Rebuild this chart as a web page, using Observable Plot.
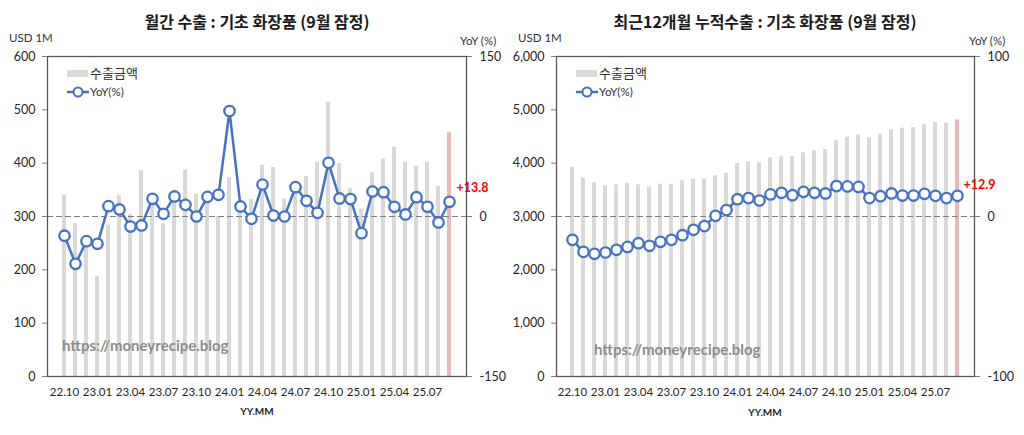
<!DOCTYPE html>
<html><head><meta charset="utf-8">
<script src="https://cdn.jsdelivr.net/npm/d3@7"></script>
<script src="https://cdn.jsdelivr.net/npm/@observablehq/plot@0.6"></script>
<style>
body{margin:0;background:#fff;font-family:Lato,"Noto Sans CJK KR",sans-serif;}
#wrap{position:relative;width:1024px;height:435px;overflow:hidden;background:#fff;}
.panel{position:absolute;top:0;width:512px;height:435px;}
.ov{position:absolute;white-space:nowrap;line-height:1;}
.title{font-weight:bold;font-size:16px;color:#1a1a1a;transform:translateX(-50%);font-family:"Noto Sans CJK KR",sans-serif;}
.unit{font-size:11.5px;color:#333;}
.xl{font-size:10px;font-weight:bold;color:#262626;transform:translateX(-50%);}
.wm{font-size:15px;font-weight:bold;color:#8c8c8c;}
.lg1{font-size:13px;color:#333;font-family:"Noto Sans CJK KR",sans-serif;}
.lg2{font-size:11.5px;color:#333;}
</style>
</head><body>
<div id="wrap">
  <div class="panel" id="p1" style="left:0"></div>
  <div class="panel" id="p2" style="left:512px"></div>
</div>
<script>
// ---- data ----
const months = ["22.10","22.11","22.12","23.01","23.02","23.03","23.04","23.05","23.06","23.07","23.08","23.09",
  "23.10","23.11","23.12","24.01","24.02","24.03","24.04","24.05","24.06","24.07","24.08","24.09",
  "24.10","24.11","24.12","25.01","25.02","25.03","25.04","25.05","25.06","25.07","25.08","25.09"];
const xTickLabels = ["22.10","23.01","23.04","23.07","23.10","24.01","24.04","24.07","24.10","25.01","25.04","25.07"];

const monthlyExport = [340, 287, 250, 188, 284, 339, 304, 386, 328, 287, 330, 387,
  342, 338, 300, 373, 315, 332, 396, 392, 333, 345, 375, 402,
  514, 399, 352, 314, 382, 408, 430, 402, 394, 402, 356, 457];
const monthlyYoY = [-18, -44.4, -23.1, -25.6, 9.7, 6.6, -9.4, -8.4, 16.6, 2.5, 18.8, 10.9,
  0, 18.4, 20.3, 98.8, 9.4, -2.2, 30, 0.9, 0, 27.5, 14.7, 3.4,
  50.3, 16.9, 16.3, -15.6, 23.4, 22.8, 9.1, 1.9, 18.1, 9.1, -5.6, 13.8];

const cumExport = [3925, 3719, 3638, 3575, 3594, 3625, 3594, 3550, 3606, 3606, 3669, 3700,
  3700, 3762, 3812, 3994, 4025, 4006, 4100, 4119, 4119, 4194, 4237, 4256,
  4431, 4488, 4531, 4475, 4544, 4625, 4656, 4669, 4731, 4762, 4750, 4812];
const cumYoY = [-14.6, -22.1, -23.3, -22.5, -20.8, -19.0, -16.7, -18.3, -15.8, -14.6, -11.7, -8.3,
  -6.0, 0.4, 4.0, 10.8, 11.5, 10.0, 13.8, 14.8, 13.3, 15.4, 14.8, 14.4,
  19.0, 18.8, 18.5, 11.5, 12.7, 14.4, 13.1, 13.1, 14.2, 12.9, 11.5, 12.9];

const leftTicks1 = [0, 100, 200, 300, 400, 500, 600];
const rightTicks1 = [-150, 0, 150];
const leftTicks2 = [0, 1000, 2000, 3000, 4000, 5000, 6000];
const rightTicks2 = [-100, 0, 100];

const titles = ["월간 수출 : 기초 화장품 (9월 잠정)", "최근12개월 누적수출 : 기초 화장품 (9월 잠정)"];
const legendLabels = ["수출금액", "YoY(%)"];
const unitLeft = "USD 1M", unitRight = "YoY (%)", xLabel = "YY.MM", watermark = "https://moneyrecipe.blog";

// ---- drawing ----
function makePanel(cfg) {
  const yMax = cfg.leftTicks[cfg.leftTicks.length - 1];
  const yoyMax = cfg.rightTicks[cfg.rightTicks.length - 1];
  const mid = yMax / 2, f = mid / yoyMax;
  const data = months.map((m, i) => ({m, v: cfg.bars[i], yoy: cfg.yoy[i], last: i === months.length - 1}));
  const last = data[data.length - 1];
  return Plot.plot({
    width: 512, height: 435,
    marginLeft: cfg.ml, marginRight: cfg.mr, marginTop: 56, marginBottom: 59,
    style: {fontFamily: "Lato, 'Noto Sans CJK KR', sans-serif", fontSize: "12px", color: "#262626", background: "transparent"},
    x: {type: "band", domain: months, paddingInner: 0.6, paddingOuter: 0.3},
    y: {domain: [0, yMax]},
    marks: [
      Plot.barY(data, {x: "m", y: "v", fill: d => d.last ? "#e6b9b8" : "#d9d9d9"}),
      Plot.ruleY([mid], {stroke: "#7f7f7f", strokeWidth: 1.2, strokeDasharray: "6,3"}),
      Plot.line(data, {x: "m", y: d => mid + d.yoy * f, stroke: "#4472c4", strokeWidth: 2.5}),
      Plot.dot(data, {x: "m", y: d => mid + d.yoy * f, r: 5.2, fill: "white", stroke: "#4472c4", strokeWidth: 2.3}),
      Plot.frame({stroke: "#595959", strokeWidth: 1.3}),
      Plot.axisY({ticks: cfg.leftTicks, tickFormat: cfg.fmt, tickSize: 5, tickPadding: 7, label: null, stroke: "#7f7f7f", fontSize: 12.5}),
      Plot.axisY({anchor: "right", ticks: cfg.rightTicks.map(t => mid + t * f), tickFormat: t => String(Math.round((t - mid) / f)), tickSize: 5, tickPadding: 8, label: null, stroke: "#7f7f7f", fontSize: 12.5}),
      Plot.axisX({ticks: xTickLabels, tickSize: 0, tickPadding: 11, label: null, fontSize: 11.5}),
      Plot.text([last], {x: "m", y: d => mid + d.yoy * f, text: () => cfg.lastLabel, dx: cfg.ldx, dy: cfg.ldy, textAnchor: "start", fill: "#ff0000", fontWeight: "bold", fontSize: 12.5})
    ]
  });
}

document.getElementById("p1").appendChild(makePanel({
  bars: monthlyExport, yoy: monthlyYoY, leftTicks: leftTicks1, rightTicks: rightTicks1,
  fmt: d3.format("d"), ml: 47, mr: 46, lastLabel: "+13.8", ldx: 7, ldy: -14
}));
document.getElementById("p2").appendChild(makePanel({
  bars: cumExport, yoy: cumYoY, leftTicks: leftTicks2, rightTicks: rightTicks2,
  fmt: d3.format(","), ml: 44, mr: 50, lastLabel: "+12.9", ldx: 6, ldy: -11
}));

// ---- text overlays ----
const wrap = document.getElementById("wrap");
function ov(cls, text, left, top) {
  const d = document.createElement("div");
  d.className = "ov " + cls; d.textContent = text;
  d.style.left = left + "px"; d.style.top = top + "px";
  wrap.appendChild(d); return d;
}
function legend(x0) {
  const r = document.createElement("div");
  r.style.cssText = `position:absolute;left:${x0}px;top:70px;width:21px;height:7px;background:#d9d9d9;`;
  wrap.appendChild(r);
  ov("lg1", legendLabels[0], x0 + 23, 66);
  const s = document.createElementNS("http://www.w3.org/2000/svg", "svg");
  s.setAttribute("width", 24); s.setAttribute("height", 14);
  s.style.cssText = `position:absolute;left:${x0}px;top:85px;`;
  s.innerHTML = '<line x1="0" y1="7" x2="22" y2="7" stroke="#4472c4" stroke-width="2.5"/><circle cx="11" cy="7" r="4.5" fill="white" stroke="#4472c4" stroke-width="2"/>';
  wrap.appendChild(s);
  ov("lg2", legendLabels[1], x0 + 23, 86);
}
ov("title", titles[0], 257, 13);
ov("title", titles[1], 765, 13);
ov("unit", unitLeft, 9, 32);
ov("unit", unitRight, 460, 35);
ov("unit", unitLeft, 518, 32);
ov("unit", unitRight, 969, 35);
ov("xl", xLabel, 257, 406);
ov("xl", xLabel, 765, 407);
ov("wm", watermark, 62, 338);
ov("wm", watermark, 594, 342);
legend(67);
legend(576);
</script>
</body></html>
